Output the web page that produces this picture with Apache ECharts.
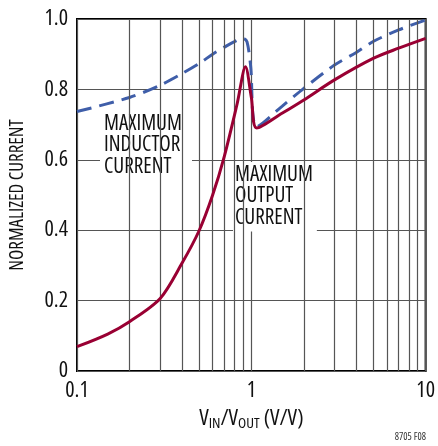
<!DOCTYPE html>
<html>
<head>
<meta charset="utf-8">
<script src="https://cdn.jsdelivr.net/npm/echarts@6/dist/echarts.min.js"></script>
<style>
  html, body { margin: 0; padding: 0; background: #fff; }
  #chart { width: 438px; height: 446px; }
</style>
</head>
<body>
<div id="chart"></div>
<script>
// VIN/VOUT values and normalized currents
const inductorX = [0.1, 0.2, 0.3, 0.4, 0.5, 0.6, 0.7, 0.8, 0.9, 0.945, 0.99, 1.075, 1.5, 2, 3, 4, 5, 7, 10]
const inductorY = [0.737, 0.777, 0.812, 0.845, 0.873, 0.900, 0.920, 0.936, 0.945, 0.935, 0.869, 0.694, 0.752, 0.803, 0.869, 0.905, 0.936, 0.969, 0.997]
const outputX = [0.1, 0.15, 0.2, 0.3, 0.4, 0.5, 0.6, 0.7, 0.83, 0.926, 1.0, 1.075, 1.5, 2, 3, 5, 7, 10]
const outputY = [0.069, 0.105, 0.14, 0.206, 0.306, 0.397, 0.50, 0.61, 0.76, 0.864, 0.778, 0.69, 0.732, 0.77, 0.827, 0.888, 0.917, 0.945]
const xTicks = [0.1, 1, 10]
const xMinorGrid = [0.2, 0.3, 0.4, 0.5, 0.6, 0.7, 0.8, 0.9, 2, 3, 4, 5, 6, 7, 8, 9]

// condensed face (Helvetica Condensed look-alike)
const font = '"Open Sans", sans-serif'
const stretch = 'condensed'

const zip = (xs, ys) => xs.map((x, i) => [x, ys[i]])

let chart = echarts.init(document.getElementById('chart'))
chart.setOption({
  animation: false,
  grid: {
    left: 77, right: 10, top: 19, bottom: 75,
    show: true, borderColor: '#000', borderWidth: 2
  },
  xAxis: {
    type: 'log',
    logBase: 10,
    min: 0.1,
    max: 10,
    axisLine: { show: false },
    axisTick: { show: false },
    splitLine: { show: true, lineStyle: { color: '#555', width: 1.2 } },
    axisLabel: {
      margin: 9,
      fontFamily: font, fontWeight: stretch, fontSize: 22, color: '#111',
      formatter: v => (xTicks.some(t => Math.abs(t - v) < 1e-9) ? String(v) : '')
    },
    name: '{v|V}{s|IN}{v|/V}{s|OUT}{v| (V/V)}',
    nameLocation: 'middle',
    nameGap: 30,
    nameTextStyle: {
      rich: {
        v: { fontFamily: font, fontWeight: stretch, fontSize: 22, color: '#111', lineHeight: 26 },
        s: { fontFamily: font, fontWeight: stretch, fontSize: 15, color: '#111', lineHeight: 26, padding: [9, 0, 0, 0] }
      }
    }
  },
  yAxis: {
    type: 'value',
    min: 0,
    max: 1,
    interval: 0.2,
    axisLine: { show: false },
    axisTick: { show: false },
    splitLine: { show: true, lineStyle: { color: '#555', width: 1.2 } },
    axisLabel: {
      margin: 9,
      fontFamily: font, fontWeight: stretch, fontSize: 22, color: '#111',
      formatter: v => (v === 0 ? '0' : v.toFixed(1))
    },
    name: 'NORMALIZED CURRENT',
    nameLocation: 'middle',
    nameGap: 50,
    nameTextStyle: { fontFamily: font, fontWeight: stretch, fontSize: 19, color: '#111' }
  },
  series: [
    {
      // minor log gridlines
      type: 'line',
      data: [],
      silent: true,
      z: 1,
      markLine: {
        silent: true,
        symbol: 'none',
        label: { show: false },
        lineStyle: { color: '#555', width: 1.2, type: 'solid' },
        data: xMinorGrid.map(v => ({ xAxis: v }))
      }
    },
    {
      name: 'inductor',
      type: 'line',
      data: zip(inductorX, inductorY),
      showSymbol: false,
      smooth: 0.3,
      z: 4,
      lineStyle: { color: '#3f5ea9', width: 3, type: [15, 8] }
    },
    {
      name: 'output',
      type: 'line',
      data: zip(outputX, outputY),
      showSymbol: false,
      smooth: 0.3,
      z: 5,
      lineStyle: { color: '#990033', width: 3 }
    }
  ],
  graphic: [
    {
      type: 'text', left: 100, top: 111, z: 3,
      style: {
        text: 'MAXIMUM\nINDUCTOR\nCURRENT',
        fontFamily: font, fontWeight: stretch, fontSize: 21, lineHeight: 21.5,
        align: 'center', width: 84, fill: '#111',
        backgroundColor: '#fff', padding: [2, 4, 3, 4]
      }
    },
    {
      type: 'text', left: 233, top: 162, z: 3,
      style: {
        text: 'MAXIMUM\nOUTPUT\nCURRENT',
        fontFamily: font, fontWeight: stretch, fontSize: 21, lineHeight: 21.5,
        align: 'left', fill: '#111',
        backgroundColor: '#fff', padding: [2, 4, 3, 2]
      }
    },
    {
      type: 'text', right: 12, top: 432,
      style: { text: '8705 F08', fontFamily: font, fontWeight: stretch, fontSize: 10, fill: '#333' }
    }
  ]
})
</script>
</body>
</html>
